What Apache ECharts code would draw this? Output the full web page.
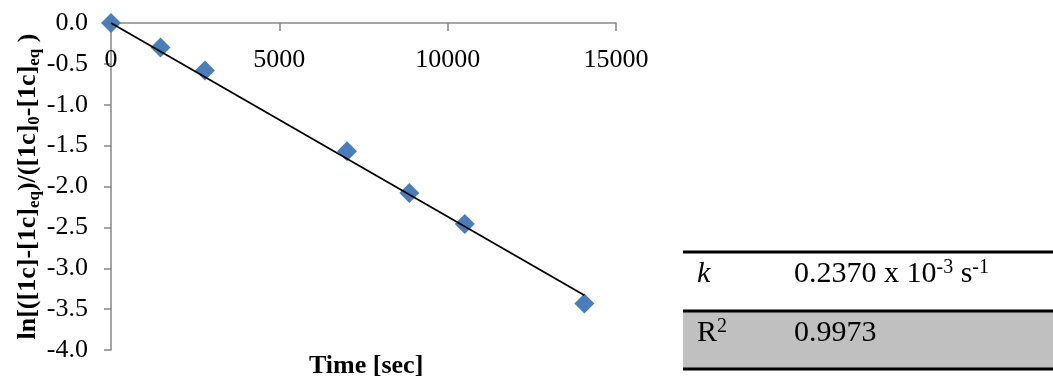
<!DOCTYPE html>
<html>
<head>
<meta charset="utf-8">
<script src="https://cdn.jsdelivr.net/npm/echarts@6/dist/echarts.min.js"></script>
<style>
html,body{margin:0;padding:0;background:#fff;}
#c{width:1053px;height:385px;}
</style>
</head>
<body>
<div id="c"></div>
<script>
// Data
var times = [0, 1470, 2790, 7010, 8860, 10510, 14060];
var values = [0, -0.30, -0.58, -1.57, -2.08, -2.46, -3.43];
var xTicks = { min: 0, max: 15000, interval: 5000 };
var yTicks = { min: -4, max: 0, interval: 0.5 };
var tableK = '0.2370 x 10';
var tableR2 = '0.9973';

// Linear fit through origin (Excel trendline with intercept = 0)
var sxy = 0, sxx = 0;
for (var i = 0; i < times.length; i++) { sxy += times[i] * values[i]; sxx += times[i] * times[i]; }
var slope = sxy / sxx;
var tMax = Math.max.apply(null, times);
var fitLine = [[0, 0], [tMax, slope * tMax]];
var pts = times.map(function (t, i) { return [t, values[i]]; });

var FONT = '"Liberation Serif", "Times New Roman", serif';
var chart = echarts.init(document.getElementById('c'));
chart.setOption({
  backgroundColor: '#ffffff',
  animation: false,
  grid: { left: 111, right: 437, top: 23, bottom: 35, containLabel: false },
  xAxis: {
    type: 'value', position: 'top', min: xTicks.min, max: xTicks.max, interval: xTicks.interval,
    axisLine: { show: true, onZero: false, lineStyle: { color: '#868686', width: 1.5 } },
    axisTick: { show: true, inside: true, length: 8, lineStyle: { color: '#868686', width: 1.5 } },
    axisLabel: { inside: true, margin: 24, color: '#000', fontFamily: FONT, fontSize: 26,
      formatter: function (v) { return String(v); } },
    splitLine: { show: false }
  },
  yAxis: {
    type: 'value', min: yTicks.min, max: yTicks.max, interval: yTicks.interval,
    axisLine: { show: true, onZero: false, lineStyle: { color: '#868686', width: 1.5 } },
    axisTick: { show: true, length: 7, lineStyle: { color: '#868686', width: 1.5 } },
    axisLabel: { margin: 23, color: '#000', fontFamily: FONT, fontSize: 26,
      formatter: function (v) { return v.toFixed(1); } },
    splitLine: { show: false },
    name: '{n|ln[([1c]-[1c]}{s|eq}{n|)/([1c]}{s|0}{n|-[1c]}{s|eq}{n| )}',
    nameLocation: 'middle', nameGap: 68, nameRotate: 90,
    nameTextStyle: {
      rich: {
        n: { fontFamily: FONT, fontWeight: 'bold', fontSize: 26, color: '#000', lineHeight: 30, verticalAlign: 'middle' },
        s: { fontFamily: FONT, fontWeight: 'bold', fontSize: 17, color: '#000', lineHeight: 17, verticalAlign: 'bottom' }
      }
    }
  },
  title: {
    text: 'Time [sec]', left: 304, top: 348,
    textStyle: { fontFamily: FONT, fontWeight: 'bold', fontSize: 26, color: '#000' }
  },
  series: [
    {
      type: 'line', data: fitLine, symbol: 'none', z: 3,
      lineStyle: { color: '#000', width: 1.8 }
    },
    {
      type: 'scatter', data: pts, symbol: 'diamond', symbolSize: 20, z: 2,
      itemStyle: { color: '#4A7EBB', opacity: 1 }
    }
  ],
  graphic: [
    { type: 'rect', shape: { x: 683, y: 311, width: 370, height: 58 }, style: { fill: '#c0c0c0' } },
    { type: 'line', shape: { x1: 683, y1: 252, x2: 1053, y2: 252 }, style: { stroke: '#000', lineWidth: 3 } },
    { type: 'line', shape: { x1: 683, y1: 311, x2: 1053, y2: 311 }, style: { stroke: '#000', lineWidth: 3 } },
    { type: 'line', shape: { x1: 683, y1: 369, x2: 1053, y2: 369 }, style: { stroke: '#000', lineWidth: 3 } },
    { type: 'text', x: 697, y: 274, style: { text: 'k', fontFamily: FONT, fontStyle: 'italic', fontSize: 30, fill: '#000', verticalAlign: 'middle' } },
    { type: 'text', x: 794, y: 274, style: {
        text: '{n|' + tableK + '}{p|-3}{n| s}{p|-1}',
        verticalAlign: 'middle',
        rich: {
          n: { fontFamily: FONT, fontSize: 30, fill: '#000', lineHeight: 32, verticalAlign: 'middle' },
          p: { fontFamily: FONT, fontSize: 20, fill: '#000', lineHeight: 20, verticalAlign: 'top' }
        } } },
    { type: 'text', x: 697, y: 333, style: {
        text: '{n|R}{p|2}',
        verticalAlign: 'middle',
        rich: {
          n: { fontFamily: FONT, fontSize: 30, fill: '#000', lineHeight: 32, verticalAlign: 'middle' },
          p: { fontFamily: FONT, fontSize: 20, fill: '#000', lineHeight: 20, verticalAlign: 'top' }
        } } },
    { type: 'text', x: 794, y: 333, style: { text: tableR2, fontFamily: FONT, fontSize: 30, fill: '#000', verticalAlign: 'middle' } }
  ]
});
</script>
</body>
</html>
